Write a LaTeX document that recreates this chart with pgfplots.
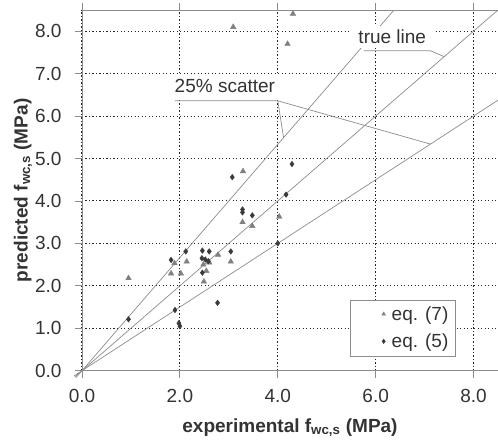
\documentclass[border=0pt]{standalone}
\usepackage{fontspec}
\setmainfont{Liberation Sans}
\usepackage{pgfplots}
\pgfplotsset{compat=1.18}
\definecolor{axisgray}{HTML}{8C8C8C}
\definecolor{triGray}{HTML}{808080}
\definecolor{diaDark}{HTML}{3A3A3A}
\definecolor{txt}{HTML}{333333}

\begin{document}
\begin{tikzpicture}
\begin{axis}[
    scale only axis,
    width=416pt, height=360.7pt,
    xmin=0, xmax=8.5, ymin=0, ymax=8.5,
    clip=false,
    xtick={0,2,4,6,8}, ytick={0,1,...,8},
    xticklabel={\pgfmathprintnumber[fixed,fixed zerofill,precision=1]{\tick}},
    yticklabel={\pgfmathprintnumber[fixed,fixed zerofill,precision=1]{\tick}},
    /pgf/number format/assume math mode=true,
    ticklabel style={font=\fontsize{19}{21}\selectfont, text=txt},
    xticklabel style={yshift=-8pt},
    yticklabel style={xshift=-10pt},
    tick align=outside, major tick length=7pt,
    tick style={axisgray, line width=0.8pt},
    axis line style={axisgray, line width=0.8pt},
    xmajorgrids, ymajorgrids,
    major grid style={black!85, line width=1pt, dash pattern=on 1.2pt off 2.3pt},
    xlabel={\textbf{experimental f\textsubscript{wc,s} (MPa)}},
    ylabel={\textbf{predicted f\textsubscript{wc,s} (MPa)}},
    label style={font=\fontsize{19}{21}\selectfont, text=txt},
    xlabel style={yshift=-9pt},
    ylabel style={yshift=-4pt},
    legend style={at={(0.898,0.041)}, anchor=south east, draw=axisgray,
        font=\fontsize{19}{21}\selectfont, text=txt, inner xsep=5pt, inner ysep=4.7pt,
        row sep=8pt, nodes={inner sep=2pt}},
    legend cell align=left,
    legend image code/.code={\path[draw=none,fill=none] (0pt,-4pt) (34pt,4pt);
        \draw[#1, mark size=2.2pt] plot coordinates {(28pt,0pt)};},
]
% reference lines: 25% scatter and true line
\addplot[axisgray, line width=0.7pt, forget plot] coordinates {(-0.12,-0.16) (6.375,8.5)};
\addplot[axisgray, line width=0.7pt, forget plot] coordinates {(-0.15,-0.15) (8.5,8.5)};
\addplot[axisgray, line width=0.7pt, forget plot] coordinates {(-0.16,-0.12) (8.5,6.375)};

% eq. (7)
\addplot[only marks, mark=triangle*, mark size=3.2pt, color=triGray] coordinates {
    (0.95,2.18) (1.82,2.29) (2.02,2.29) (1.89,2.53) (2.14,2.57) (2.49,2.10)
    (2.54,2.35) (2.48,2.50) (2.60,2.55) (2.78,2.73) (3.04,2.57) (3.28,3.50)
    (3.48,3.41) (3.29,4.70) (4.03,3.63) (3.09,8.10) (4.20,7.70) (4.31,8.41)
};
% eq. (5)
\addplot[only marks, mark=diamond*, mark size=2.8pt, color=diaDark] coordinates {
    (0.95,1.21) (1.82,2.61) (1.90,1.43) (1.98,1.12) (2.00,1.05) (2.12,2.81)
    (2.46,2.83) (2.60,2.81) (2.45,2.65) (2.52,2.62) (2.58,2.58) (2.46,2.31)
    (2.77,1.60) (3.04,2.81) (3.28,3.80) (3.28,3.73) (3.48,3.66) (3.07,4.56)
    (4.17,4.15) (4.00,3.00) (4.29,4.87)
};
\legend{eq. (7)\hspace{10pt}, eq. (5)\hspace{10pt}}

% annotations
\node[fill=white, inner xsep=5pt, inner ysep=5pt, text=txt, font=\fontsize{19}{21}\selectfont]
    at (axis cs:2.92,6.70) {25\% scatter};
\draw[axisgray, line width=0.7pt] (axis cs:1.90,6.36) -- (axis cs:4.0,6.36) -- (axis cs:4.12,5.49);
\draw[axisgray, line width=0.7pt] (axis cs:4.0,6.36) -- (axis cs:7.12,5.34);
\node[fill=white, inner xsep=8pt, inner ysep=4pt, text=txt, font=\fontsize{19}{21}\selectfont]
    at (axis cs:6.34,7.87) {true line};
\draw[axisgray, line width=0.7pt] (axis cs:5.76,7.54) -- (axis cs:7.12,7.54) -- (axis cs:7.40,7.40);
\end{axis}
\pgfresetboundingbox
\path ([shift={(-82pt,-74.3pt)}]current axis.south west) rectangle ([shift={(0pt,10pt)}]current axis.north east);
\end{tikzpicture}
\end{document}
